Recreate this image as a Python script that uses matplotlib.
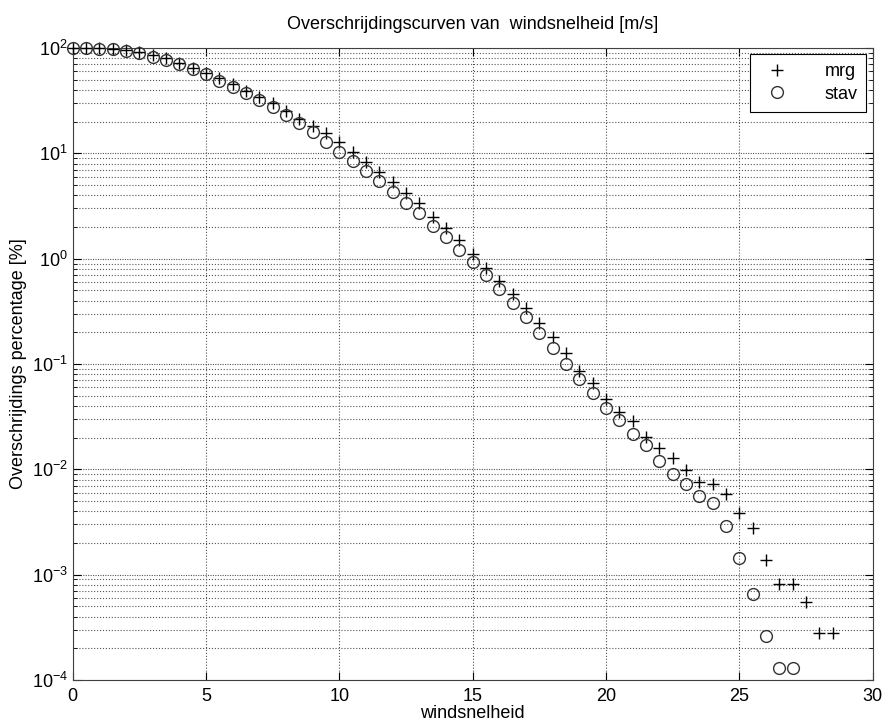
import matplotlib
matplotlib.use("Agg")
import matplotlib.pyplot as plt
from matplotlib.ticker import LogLocator, MultipleLocator

# windsnelheid in stappen van 0.5 m/s
wind_mrg = [i * 0.5 for i in range(58)]
wind_stav = [i * 0.5 for i in range(55)]

# overschrijdingspercentage [%]
mrg = [
    100, 99.9, 99.5, 98.5, 96.5, 92.5, 85.8, 79.8, 72.6, 64.2,
    57.5, 51.5, 45.5, 39.3, 34.5, 29.9, 25.1, 21.3, 18.3, 15.5,
    12.7, 10.2, 8.32, 6.60, 5.37, 4.17, 3.35, 2.50, 1.94, 1.50,
    1.11, 0.820, 0.617, 0.458, 0.337, 0.245, 0.181, 0.128, 0.0861, 0.0654,
    0.0464, 0.0352, 0.0289, 0.0204, 0.0158, 0.0128, 0.00982, 0.00760, 0.00719, 0.00585,
    0.00384, 0.00275, 0.00137, 0.000813, 0.000813, 0.000552, 0.000277, 0.000277,
]
stav = [
    100, 99.7, 99.0, 97.5, 93.7, 89.0, 82.7, 76.9, 70.0, 62.8,
    56.2, 48.9, 42.9, 37.6, 32.1, 27.5, 23.1, 19.4, 15.8, 12.8,
    10.4, 8.48, 6.84, 5.46, 4.32, 3.35, 2.69, 2.05, 1.61, 1.22,
    0.935, 0.699, 0.514, 0.383, 0.281, 0.199, 0.143, 0.101, 0.0714, 0.0533,
    0.0379, 0.0293, 0.0216, 0.0169, 0.0119, 0.00896, 0.00719, 0.00556, 0.00474, 0.00289,
    0.00145, 0.000653, 0.000261, 0.000129, 0.000129,
]

plt.rcParams["font.family"] = ["Liberation Sans", "DejaVu Sans"]
plt.rcParams["mathtext.default"] = "regular"
plt.rcParams["font.size"] = 13

fig = plt.figure(figsize=(8.86, 7.28), dpi=100)
ax = fig.add_axes([0.082, 0.066, 0.903, 0.868])

ax.semilogy(wind_mrg, mrg, linestyle="none", marker="+", ms=9, mew=1.0,
            color="black", label="mrg", clip_on=False, zorder=3)
ax.semilogy(wind_stav, stav, linestyle="none", marker="o", ms=8.5, mew=1.0,
            mfc="none", mec="#333333", label="stav", clip_on=False, zorder=3)

ax.set_xlim(0, 30)
ax.set_ylim(1e-4, 1e2)
ax.xaxis.set_major_locator(MultipleLocator(5))
ax.yaxis.set_major_locator(LogLocator(base=10, numticks=10))
ax.yaxis.set_minor_locator(LogLocator(base=10, subs=range(2, 10), numticks=100))

ax.grid(True, which="major", axis="x", linestyle=":", color="#555555", linewidth=0.8)
ax.grid(True, which="major", axis="y", linestyle=(0, (1, 1.2)), color="#555555", linewidth=0.8)
ax.grid(True, which="minor", axis="y", linestyle=":", color="#555555", linewidth=0.8)

ax.tick_params(which="both", direction="in", top=True, right=True, labelsize=13)
ax.tick_params(which="major", length=6)
ax.tick_params(which="minor", length=3)
ax.tick_params(axis="x", pad=6)
for sp in ax.spines.values():
    sp.set_color("#404040")

ax.set_title("Overschrijdingscurven van  windsnelheid [m/s]", fontsize=13, pad=14)
ax.set_xlabel("windsnelheid", fontsize=13, labelpad=0)
ax.set_ylabel("Overschrijdings percentage [%]", fontsize=13, labelpad=3)

leg = ax.legend(loc="upper right", fancybox=False, framealpha=1, edgecolor="black",
                fontsize=13, borderaxespad=0.35, handletextpad=1.6, borderpad=0.5,
                labelspacing=0.3)
leg.get_frame().set_linewidth(0.8)

fig.savefig("out.png", dpi=100)
